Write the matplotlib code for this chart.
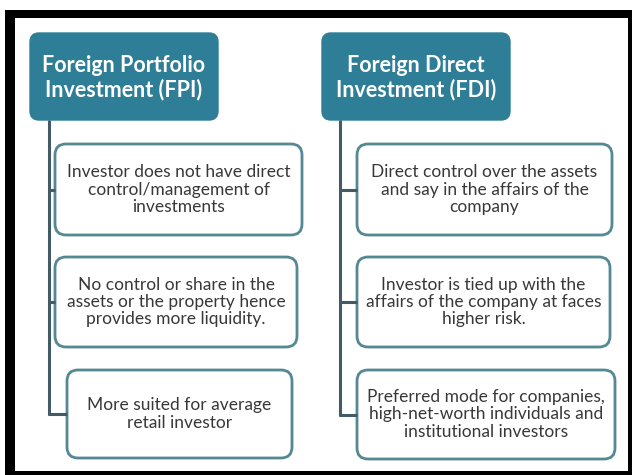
import matplotlib
matplotlib.use('Agg')
import matplotlib.pyplot as plt
from matplotlib.patches import FancyBboxPatch, Rectangle

plt.rcParams['font.family'] = ['Lato', 'DejaVu Sans']

# content
headers = ['Foreign Portfolio\nInvestment (FPI)', 'Foreign Direct\nInvestment (FDI)']
fpi_points = [
    'Investor does not have direct\ncontrol/management of\ninvestments',
    'No control or share in the\nassets or the property hence\nprovides more liquidity.',
    'More suited for average\nretail investor',
]
fdi_points = [
    'Direct control over the assets\nand say in the affairs of the\ncompany',
    'Investor is tied up with the\naffairs of the company at faces\nhigher risk.',
    'Preferred mode for companies,\nhigh-net-worth individuals and\ninstitutional investors',
]

# layout (pixel space, y downwards)
header_boxes = [(30, 33, 188, 87), (322, 33, 188, 87)]
spine_x = [49, 340]
point_boxes = [
    [(55, 144, 247, 91), (55, 257, 242, 90), (67, 370, 225, 88)],
    [(357, 144, 255, 91), (357, 257, 253, 90), (357, 370, 258, 89)],
]

teal = '#2d7e96'
edge = '#548893'
line_col = '#425b67'
text_col = '#383838'

fig = plt.figure(figsize=(6.32, 4.75), dpi=100)
ax = fig.add_axes([0, 0, 1, 1])
ax.set_xlim(0, 632)
ax.set_ylim(475, 0)
ax.axis('off')

# black frame
ax.add_patch(Rectangle((5, 10), 627, 8, facecolor='black', edgecolor='none'))
ax.add_patch(Rectangle((5, 10), 10, 465, facecolor='black', edgecolor='none'))
ax.add_patch(Rectangle((628, 10), 4, 465, facecolor='black', edgecolor='none'))
ax.add_patch(Rectangle((5, 471), 627, 4, facecolor='black', edgecolor='none'))

columns = [fpi_points, fdi_points]
for col in range(2):
    hx, hy, hw, hh = header_boxes[col]
    ax.add_patch(FancyBboxPatch((hx + 9, hy + 9), hw - 18, hh - 18,
                                boxstyle='round,pad=9', facecolor=teal, edgecolor=teal, linewidth=1))
    ax.text(hx + hw / 2, hy + hh / 2 + 1, headers[col], ha='center', va='center',
            color='white', fontsize=15.5, fontweight='bold', linespacing=1.12)

    boxes = point_boxes[col]
    sx = spine_x[col]
    last_mid = boxes[-1][1] + boxes[-1][3] / 2
    ax.plot([sx, sx], [hy + hh, last_mid + 1], color=line_col, linewidth=2.2, solid_capstyle='butt')
    for (bx, by, bw, bh), txt in zip(boxes, columns[col]):
        mid = by + bh / 2
        ax.plot([sx - 1, bx], [mid, mid], color=line_col, linewidth=2.2, solid_capstyle='butt')
        ax.add_patch(FancyBboxPatch((bx + 11, by + 11), bw - 22, bh - 22,
                                    boxstyle='round,pad=11', facecolor='white',
                                    edgecolor=edge, linewidth=2))
        ax.text(bx + bw / 2, mid, txt, ha='center', va='center', color=text_col,
                fontsize=12.5, linespacing=1.1)

fig.savefig('out.png', dpi=100, facecolor='white')
